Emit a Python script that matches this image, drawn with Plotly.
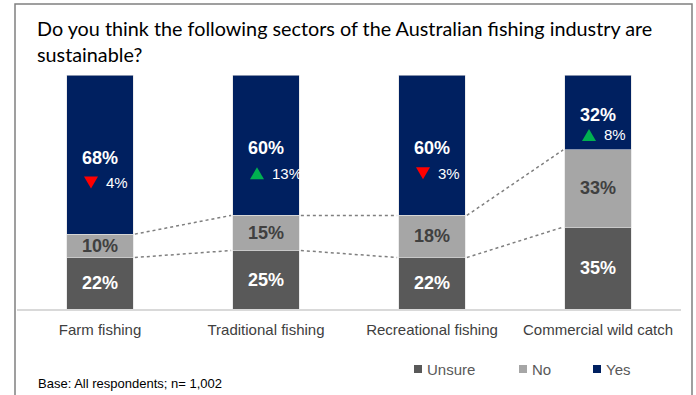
import plotly.graph_objects as go

categories = ["Farm fishing", "Traditional fishing", "Recreational fishing", "Commercial wild catch"]
unsure = [22, 25, 22, 35]
no = [10, 15, 18, 33]
yes = [68, 60, 60, 32]
yes_change = [-4, 13, -3, 8]

C_UNSURE = "#595959"
C_NO = "#A6A6A6"
C_YES = "#002060"
FONT = "Liberation Sans, Arial, sans-serif"

W, H = 696, 395
L, R, T, B = 17, 15, 75, 86
PW, PH = W - L - R, H - T - B


def px(x):
    return (x - L) / PW


def py(y):
    return (H - B - y) / PH


fig = go.Figure()
for name, vals, col in [("Unsure", unsure, C_UNSURE), ("No", no, C_NO), ("Yes", yes, C_YES)]:
    fig.add_trace(go.Bar(x=categories, y=vals, name=name, marker=dict(color=col, line=dict(color="#E0E0E0", width=0.6)),
                         showlegend=False, hoverinfo="skip"))

ann = []
shapes = []
half = 0.2
for i, c in enumerate(categories):
    u, n, yv = unsure[i], no[i], yes[i]
    ann.append(dict(x=c, y=u / 2, text=f"<b>{u}%</b>", showarrow=False, font=dict(family=FONT, size=18, color="white")))
    ann.append(dict(x=c, y=u + n / 2, text=f"<b>{n}%</b>", showarrow=False, font=dict(family=FONT, size=18, color="#404040")))
    ymid = u + n + yv / 2
    ann.append(dict(x=c, y=ymid, yshift=-3, text=f"<b>{yv}%</b>", showarrow=False, font=dict(family=FONT, size=18, color="white")))
    d = yes_change[i]
    seg_px = yv / 100 * PH
    dshift = -min(28, 0.3 * seg_px)
    ann.append(dict(x=c, y=ymid, yshift=dshift, xshift=4, xanchor="left", yanchor="middle", text=f"{abs(d)}%",
                    showarrow=False, font=dict(family=FONT, size=15, color="white")))
    cx, cy = -9, dshift
    if d > 0:
        path = f"M {cx-7},{cy-6} L {cx+7},{cy-6} L {cx},{cy+6} Z"
        col = "#00B050"
    else:
        path = f"M {cx-7},{cy+6} L {cx+7},{cy+6} L {cx},{cy-6} Z"
        col = "#FF0000"
    shapes.append(dict(type="path", xref="x", yref="y", xsizemode="pixel", ysizemode="pixel",
                       xanchor=i, yanchor=ymid, path=path, fillcolor=col, line=dict(width=0)))

for i in range(len(categories) - 1):
    for vals in (unsure, [a + b for a, b in zip(unsure, no)]):
        shapes.append(dict(type="line", xref="x", yref="y", x0=i + half + 0.01, x1=i + 1 - half - 0.01,
                           y0=vals[i], y1=vals[i + 1], line=dict(color="#7F7F7F", width=1.5, dash="dot")))

# outer frame
shapes.append(dict(type="rect", xref="paper", yref="paper", x0=px(15), x1=px(692), y0=py(420), y1=py(4),
                   line=dict(color="#808080", width=1.5), fillcolor="rgba(0,0,0,0)", layer="below"))

# title
TFONT = dict(family="Lato, sans-serif", size=19.8, color="black")
ann.append(dict(xref="paper", yref="paper", x=px(35), y=py(28), xanchor="left", yanchor="middle", showarrow=False,
                text="Do you think the following sectors of the Australian fishing industry are", font=TFONT))
ann.append(dict(xref="paper", yref="paper", x=px(35), y=py(54), xanchor="left", yanchor="middle", showarrow=False,
                text="sustainable?", font=TFONT))

# legend
leg = [("Unsure", C_UNSURE, 414), ("No", C_NO, 519), ("Yes", C_YES, 593)]
for name, col, x0 in leg:
    shapes.append(dict(type="rect", xref="paper", yref="paper", x0=px(x0), x1=px(x0 + 8), y0=py(373), y1=py(365),
                       fillcolor=col, line=dict(width=0)))
    ann.append(dict(xref="paper", yref="paper", x=px(x0 + 11), y=py(369), xanchor="left", yanchor="middle",
                    showarrow=False, text=name, font=dict(family=FONT, size=15, color="#595959")))

ann.append(dict(xref="paper", yref="paper", x=px(36), y=py(383), xanchor="left", yanchor="middle", showarrow=False,
                text="Base: All respondents; n= 1,002", font=dict(family=FONT, size=13, color="black")))

fig.update_layout(
    barmode="stack", bargap=0.6, width=W, height=H,
    margin=dict(l=L, r=R, t=T, b=B),
    plot_bgcolor="white", paper_bgcolor="white",
    annotations=ann, shapes=shapes,
    xaxis=dict(showline=True, linecolor="#D9D9D9", linewidth=1.5, ticks="outside", ticklen=6, tickcolor="white",
               tickfont=dict(family=FONT, size=15, color="#404040")),
    yaxis=dict(range=[0, 100], visible=False, showgrid=False),
)
fig.write_html("out.html")
